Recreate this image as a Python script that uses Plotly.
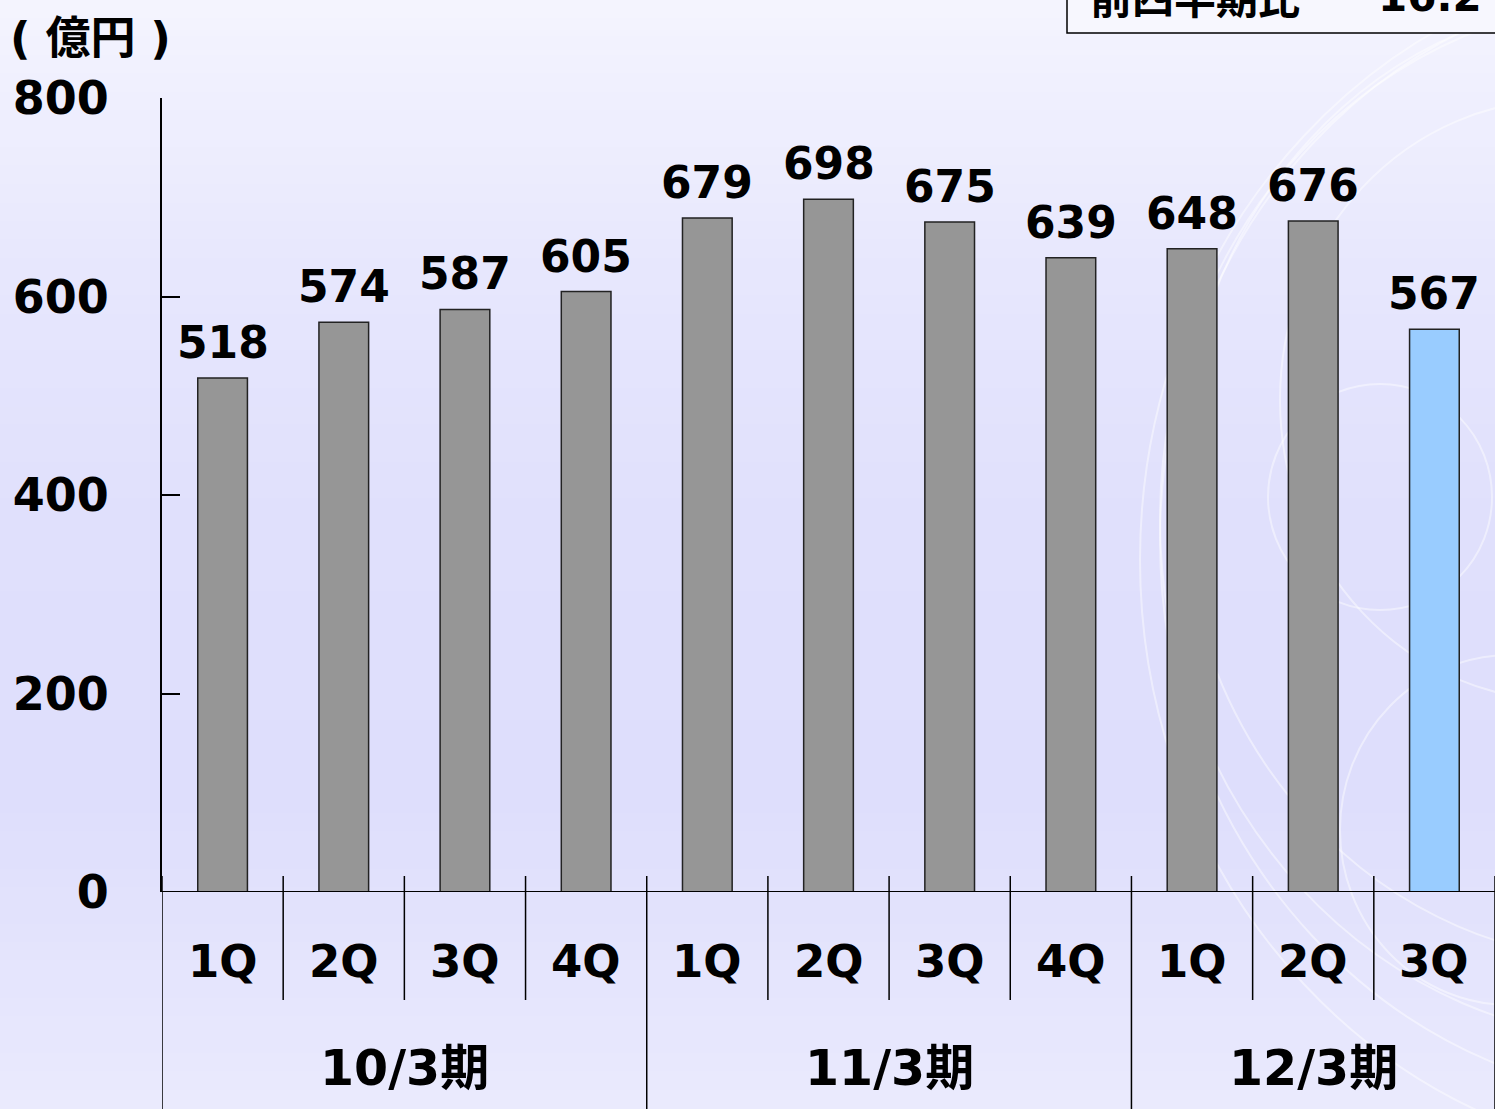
import plotly.graph_objects as go

# ---- data ----
quarters = ["1Q", "2Q", "3Q", "4Q", "1Q", "2Q", "3Q", "4Q", "1Q", "2Q", "3Q"]
periods = ["10/3期", "11/3期", "12/3期"]
period_sizes = [4, 4, 3]
values = [518, 574, 587, 605, 679, 698, 675, 639, 648, 676, 567]
bar_colors = ["#969696"] * 10 + ["#99ccff"]
y_ticks = [0, 200, 400, 600, 800]
unit_label = "(\u2004億円\u2004)"
box_label = "前四半期比"
box_value = "16.2 %"

W, H = 1495, 1109
L, R, T, B = 162, 0, 98, 217
PW, PH = W - L - R, H - T - B
FONT = "DejaVu Sans, Noto Sans CJK JP"
CJK = "Noto Sans CJK JP"

def px(x):
    return (x - L) / PW

def py(y):
    return (H - B - y) / PH

n = len(values)
xs = list(range(n))

fig = go.Figure()
fig.add_trace(go.Bar(
    x=xs, y=values,
    marker=dict(color=bar_colors, line=dict(color="#222222", width=1.5)),
    width=0.41,
    hoverinfo="skip",
))

shapes = []
# background gradient bands
stops = [(0, (244, 244, 254)), (300, (230, 230, 253)), (520, (224, 224, 252)),
         (800, (222, 222, 252)), (1109, (234, 234, 253))]
nb = 60
for i in range(nb):
    y0 = H * i / nb
    y1 = H * (i + 1) / nb
    ym = (y0 + y1) / 2
    for j in range(len(stops) - 1):
        if stops[j][0] <= ym <= stops[j + 1][0]:
            a, ca = stops[j]
            b, cb = stops[j + 1]
            t = (ym - a) / (b - a)
            c = tuple(round(ca[k] + (cb[k] - ca[k]) * t) for k in range(3))
            break
    shapes.append(dict(type="rect", xref="paper", yref="paper",
                       x0=px(-5), x1=px(W + 5), y0=py(y1 + 0.5), y1=py(y0 - 0.5),
                       fillcolor="rgb(%d,%d,%d)" % c, line=dict(width=0),
                       layer="below"))

# decorative swirl circles
deco = [(1380, 497, 112, 113), (1510, 830, 170, 175), (1640, 520, 480, 520),
        (1680, 540, 520, 560), (1700, 560, 560, 600), (1620, 480, 440, 480),
        (1560, 400, 280, 300)]
for cx, cy, rx, ry in deco:
    shapes.append(dict(type="circle", xref="paper", yref="paper",
                       x0=px(cx - rx), x1=px(cx + rx), y0=py(cy + ry), y1=py(cy - ry),
                       line=dict(color="rgba(255,255,255,0.45)", width=2),
                       fillcolor="rgba(0,0,0,0)", layer="below"))

# x-axis baseline
shapes.append(dict(type="line", xref="paper", yref="y", x0=0, x1=1.01, y0=0, y1=0,
                   line=dict(color="black", width=2)))
# quarter dividers and period dividers
bounds = [0]
for s in period_sizes:
    bounds.append(bounds[-1] + s)
for i in range(n + 1):
    xd = i - 0.5
    bottom = H + 2 if i in bounds else 1000
    shapes.append(dict(type="line", xref="x", yref="paper",
                       x0=xd, x1=xd, y0=py(876), y1=py(bottom),
                       line=dict(color="black", width=1.5)))

# top-right box
shapes.append(dict(type="rect", xref="paper", yref="paper",
                   x0=px(1067), x1=px(W + 20), y0=py(33), y1=py(-20),
                   fillcolor="#f7f7fe", line=dict(color="black", width=1.5)))

annotations = []
for x, v in zip(xs, values):
    annotations.append(dict(x=x, y=v, xref="x", yref="y", text="<b>%d</b>" % v,
                            showarrow=False, yanchor="bottom", yshift=8,
                            font=dict(family=FONT, size=44, color="black")))
for x, q in zip(xs, quarters):
    annotations.append(dict(x=x, y=py(961), xref="x", yref="paper", text="<b>%s</b>" % q,
                            showarrow=False, yanchor="middle",
                            font=dict(family=FONT, size=45, color="black")))
start = 0
for p, s in zip(periods, period_sizes):
    annotations.append(dict(x=start + (s - 1) / 2, y=py(1068), xref="x", yref="paper",
                            text="<b>%s</b>" % p, showarrow=False, yanchor="middle",
                            font=dict(family=FONT, size=49, color="black")))
    start += s
annotations.append(dict(x=px(8), y=py(38), xref="paper", yref="paper",
                        text="<b>%s</b>" % unit_label, showarrow=False,
                        xanchor="left", yanchor="middle",
                        font=dict(family=FONT, size=45, color="black")))
annotations.append(dict(x=px(1088), y=py(-5), xref="paper", yref="paper",
                        text="<b>%s</b>" % box_label, showarrow=False,
                        xanchor="left", yanchor="middle",
                        font=dict(family=CJK, size=42, color="black")))
annotations.append(dict(x=px(1376), y=py(-3), xref="paper", yref="paper",
                        text="<b>%s</b>" % box_value, showarrow=False,
                        xanchor="left", yanchor="middle",
                        font=dict(family=FONT, size=42, color="black")))

fig.update_layout(
    width=W, height=H,
    margin=dict(l=L, r=R, t=T, b=B, pad=0),
    paper_bgcolor="#e6e6fc", plot_bgcolor="rgba(0,0,0,0)",
    showlegend=False,
    shapes=shapes, annotations=annotations,
    xaxis=dict(range=[-0.5, n - 0.5], showticklabels=False, showgrid=False,
               zeroline=False, showline=False, ticks=""),
    yaxis=dict(range=[0, 800], tickvals=y_ticks,
               ticktext=["<b>%d</b>" % t for t in y_ticks],
               showgrid=False, zeroline=False, showline=True,
               linecolor="black", linewidth=2, ticks="inside", ticklen=18,
               tickcolor="black", tickwidth=1.5, ticklabelstandoff=42,
               tickfont=dict(family=FONT, size=46, color="black")),
)

fig.write_html("out.html", config={"displayModeBar": False},
               post_script="document.body.style.margin='0';document.body.style.padding='0';document.body.style.overflow='hidden';")
